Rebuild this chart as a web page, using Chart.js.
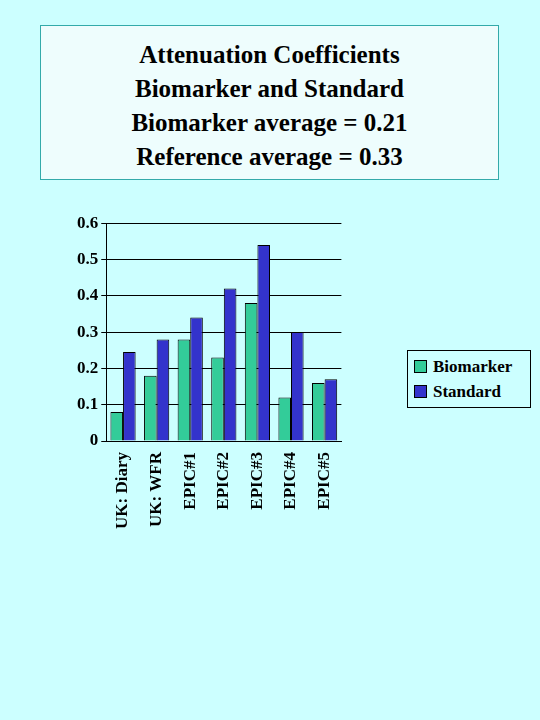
<!DOCTYPE html>
<html>
<head>
<meta charset="utf-8">
<script src="https://cdn.jsdelivr.net/npm/chart.js@4"></script>
<style>
  body { margin: 0; background: #ccffff; width: 540px; height: 720px; position: relative; overflow: hidden; font-family: "Liberation Serif", serif; }
  #title { position: absolute; left: 40px; top: 25px; width: 459px; height: 155px; border: 1px solid #33aaaa; background: #eefdfd;
           text-align: center; font-weight: bold; font-size: 25px; line-height: 34px; padding-top: 12px; box-sizing: border-box; }
  #wrap { position: absolute; left: 74px; top: 210px; width: 274px; height: 322px; }
  #legend { position: absolute; left: 407px; top: 350px; width: 124px; height: 58px; border: 1px solid #000; background: #ccffff;
            font-weight: bold; font-size: 17px; box-sizing: border-box; padding: 3px 0 0 6px; }
  #legend div { height: 25px; line-height: 25px; }
  #legend span { display: inline-block; width: 11px; height: 11px; border: 1px solid #000; margin-right: 6px; vertical-align: -1px; }
</style>
</head>
<body>
<div id="title">Attenuation Coefficients<br>Biomarker and Standard<br>Biomarker average = 0.21<br>Reference average = 0.33</div>
<div id="wrap"><canvas id="chart"></canvas></div>
<div id="legend">
  <div><span style="background:#33cc99"></span>Biomarker</div>
  <div><span style="background:#3333cc"></span>Standard</div>
</div>
<script>
// Dados
const categories = ['UK: Diary', 'UK: WFR', 'EPIC#1', 'EPIC#2', 'EPIC#3', 'EPIC#4', 'EPIC#5'];
const biomarker = [0.08, 0.18, 0.28, 0.23, 0.38, 0.12, 0.16];
const standard = [0.245, 0.28, 0.34, 0.42, 0.54, 0.30, 0.17];
const yTicks = [0, 0.1, 0.2, 0.3, 0.4, 0.5, 0.6];

const font = { family: '"Liberation Serif", serif', size: 17, weight: 'bold' };

new Chart(document.getElementById('chart').getContext('2d'), {
    type: 'bar',
    data: {
        labels: categories,
        datasets: [
            { label: 'Biomarker', data: biomarker, backgroundColor: '#33cc99', borderColor: '#000', borderWidth: 1, categoryPercentage: 0.75, barPercentage: 1 },
            { label: 'Standard', data: standard, backgroundColor: '#3333cc', borderColor: '#000', borderWidth: 1, categoryPercentage: 0.75, barPercentage: 1 }
        ]
    },
    options: {
        responsive: true,
        maintainAspectRatio: false,
        animation: false,
        plugins: { legend: { display: false }, tooltip: { enabled: false } },
        scales: {
            x: {
                grid: { display: false },
                border: { color: '#000' },
                ticks: { color: '#000', font: font, minRotation: 90, maxRotation: 90 }
            },
            y: {
                min: 0, max: 0.6,
                afterBuildTicks: axis => { axis.ticks = yTicks.map(v => ({ value: v })); },
                grid: { color: '#000', drawTicks: true, tickLength: 5 },
                border: { color: '#000' },
                ticks: { color: '#000', font: font, callback: v => v === 0 ? '0' : v.toFixed(1) }
            }
        }
    }
});
</script>
</body>
</html>
